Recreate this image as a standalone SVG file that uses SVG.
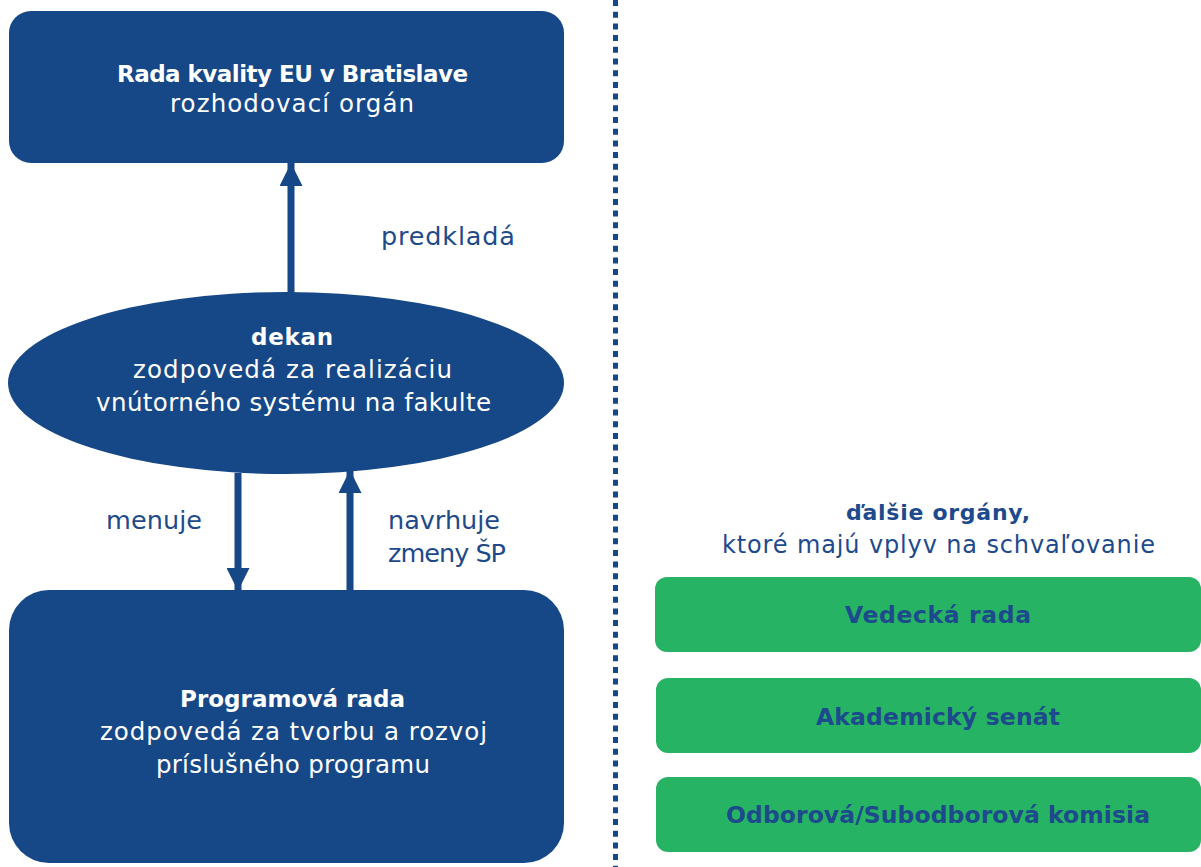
<svg xmlns="http://www.w3.org/2000/svg" width="1201" height="867" viewBox="0 0 1201 867">
<style>
.blue{fill:#164786}
.green{fill:#26b363}
.t{font-family:"DejaVu Sans","Liberation Sans",Arial,sans-serif;text-anchor:middle}
.wb{fill:#ffffff;font-weight:bold;font-size:23px}
.w{fill:#ffffff;font-size:24.5px}
.lbl{fill:#1e4a8a;font-size:25.5px;font-family:"DejaVu Sans","Liberation Sans",Arial,sans-serif}
.gt{fill:#1d4a8c;font-weight:bold;font-size:23.5px}
.conn{stroke:#164786;stroke-width:7;fill:none}
</style>
<defs>
<marker id="ah" viewBox="0 0 23 23" refX="23" refY="11.5" markerWidth="23" markerHeight="23" markerUnits="userSpaceOnUse" orient="auto">
<path d="M0,0 L23,11.5 L0,23 Z" fill="#164786"/>
</marker>
</defs>
<line x1="615.5" y1="0" x2="615.5" y2="867" stroke="#164786" stroke-width="5" stroke-dasharray="6 5.7"/>
<g id="rada-kvality">
<rect class="blue" x="9" y="11" width="555" height="152" rx="22"/>
<text class="t wb" x="292.5" y="82" textLength="351" lengthAdjust="spacing">Rada kvality EU v Bratislave</text>
<text class="t w" x="292" y="112" textLength="244" lengthAdjust="spacing">rozhodovací orgán</text>
</g>
<g id="dekan">
<ellipse class="blue" cx="286" cy="383" rx="278" ry="91"/>
<text class="t wb" x="292" y="345" textLength="82" lengthAdjust="spacing">dekan</text>
<text class="t w" x="292.5" y="378" textLength="319" lengthAdjust="spacing">zodpovedá za realizáciu</text>
<text class="t w" x="293.5" y="411" textLength="395" lengthAdjust="spacing">vnútorného systému na fakulte</text>
</g>
<g id="programova-rada">
<rect class="blue" x="9" y="590" width="555" height="273" rx="40"/>
<text class="t wb" x="292.5" y="707" textLength="225" lengthAdjust="spacing">Programová rada</text>
<text class="t w" x="293.5" y="740" textLength="387" lengthAdjust="spacing">zodpovedá za tvorbu a rozvoj</text>
<text class="t w" x="293" y="773" textLength="274" lengthAdjust="spacing">príslušného programu</text>
</g>
<g id="connectors">
<line class="conn" x1="291" y1="293" x2="291" y2="163" marker-end="url(#ah)"/>
<line class="conn" x1="238" y1="473" x2="238" y2="591" marker-end="url(#ah)"/>
<line class="conn" x1="350" y1="590" x2="350" y2="470" marker-end="url(#ah)"/>
<text class="lbl" x="381" y="245" textLength="134" lengthAdjust="spacing">predkladá</text>
<text class="lbl" x="106" y="529" textLength="96" lengthAdjust="spacing">menuje</text>
<text class="lbl" x="388" y="529" textLength="112" lengthAdjust="spacing">navrhuje</text>
<text class="lbl" x="388" y="562" textLength="118" lengthAdjust="spacing">zmeny ŠP</text>
</g>
<g id="dalsie-organy">
<text class="t" x="938" y="520" fill="#1d4a8c" font-weight="bold" font-size="22" textLength="184" lengthAdjust="spacing">ďalšie orgány,</text>
<text class="t" x="938.5" y="553" fill="#1d4a8c" font-size="24" textLength="433" lengthAdjust="spacing">ktoré majú vplyv na schvaľovanie</text>
</g>
<g id="vedecka-rada">
<rect class="green" x="655" y="577" width="546" height="75" rx="12"/>
<text class="t gt" x="938" y="623" textLength="186" lengthAdjust="spacing">Vedecká rada</text>
</g>
<g id="akademicky-senat">
<rect class="green" x="656" y="678" width="545" height="75" rx="12"/>
<text class="t gt" x="938" y="725" textLength="244" lengthAdjust="spacing">Akademický senát</text>
</g>
<g id="odborova-komisia">
<rect class="green" x="656" y="777" width="545" height="75" rx="12"/>
<text class="t gt" x="938" y="823" textLength="424" lengthAdjust="spacing">Odborová/Subodborová komisia</text>
</g>
</svg>
